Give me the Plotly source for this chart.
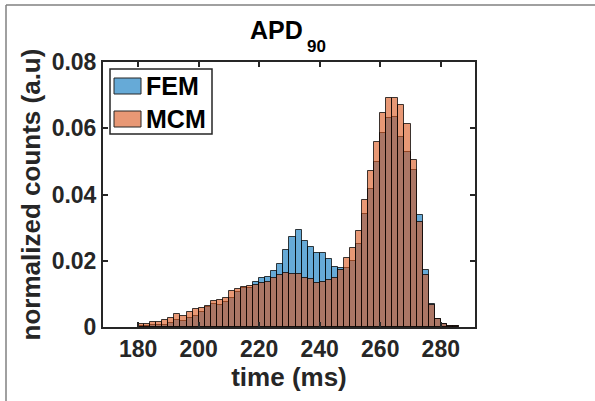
import plotly.graph_objects as go

# bin left edges (ms), 2 ms wide
bin_left = list(range(180, 286, 2))
fem = [0.0004, 0.0004, 0.0006, 0.0007, 0.0007, 0.0011, 0.0020, 0.0018, 0.0028, 0.0032,
       0.0046, 0.0060, 0.0069, 0.0065, 0.0075, 0.0088, 0.0106, 0.0119, 0.0119, 0.0136,
       0.0148, 0.0150, 0.0170, 0.0191, 0.0233, 0.0272, 0.0292, 0.0259, 0.0243, 0.0223,
       0.0223, 0.0206, 0.0182, 0.0177, 0.0177, 0.0198, 0.0252, 0.0341, 0.0416, 0.0498,
       0.0587, 0.0630, 0.0633, 0.0574, 0.0527, 0.0473, 0.0338, 0.0171, 0.0068, 0.0025,
       0.0010, 0.0004, 0.0003]
mcm = [0.0010, 0.0010, 0.0016, 0.0016, 0.0022, 0.0027, 0.0038, 0.0034, 0.0044, 0.0053,
       0.0056, 0.0063, 0.0078, 0.0083, 0.0087, 0.0110, 0.0114, 0.0121, 0.0125, 0.0126,
       0.0134, 0.0137, 0.0147, 0.0156, 0.0164, 0.0159, 0.0161, 0.0148, 0.0145, 0.0132,
       0.0137, 0.0141, 0.0149, 0.0171, 0.0207, 0.0240, 0.0289, 0.0382, 0.0471, 0.0559,
       0.0647, 0.0691, 0.0691, 0.0670, 0.0612, 0.0505, 0.0316, 0.0157, 0.0066, 0.0025,
       0.0010, 0.0004, 0.0004]
bin_width = 2
series_names = ["FEM", "MCM"]
x_ticks = [180, 200, 220, 240, 260, 280]
y_ticks = [0, 0.02, 0.04, 0.06, 0.08]
y_tick_text = ["0", "0.02", "0.04", "0.06", "0.08"]
title_main, title_sub = "APD", "90"

centers = [b + bin_width / 2 for b in bin_left]
colors = ["rgba(0,114,189,0.6)", "rgba(217,83,25,0.6)"]
ink = "#262626"
FONT = "Liberation Sans, Arial, sans-serif"

fig = go.Figure()
for name, vals, col in zip(series_names, [fem, mcm], colors):
    fig.add_trace(go.Bar(x=centers, y=vals, width=bin_width, name=name,
                         marker=dict(color=col, line=dict(color="rgba(0,0,0,0.75)", width=1)),
                         showlegend=False))

L, R, T, B = 103, 120, 62, 74
W, H = 595, 401
pw, ph = W - L - R, H - T - B
def px(x):
    return (x - L) / pw
def py(y):
    return (H - B - y) / ph

shapes = []
# figure frame (top and left edges)
shapes.append(dict(type="line", xref="paper", yref="paper", x0=px(6), x1=px(6), y0=py(401), y1=py(5),
                   line=dict(color="#808080", width=1.5)))
shapes.append(dict(type="line", xref="paper", yref="paper", x0=px(6), x1=px(595), y0=py(5), y1=py(5),
                   line=dict(color="#808080", width=1.5)))
# legend box
shapes.append(dict(type="rect", xref="paper", yref="paper", x0=px(110), x1=px(212), y0=py(134), y1=py(69),
                   fillcolor="white", line=dict(color=ink, width=1.5), layer="above"))
annotations = []
for i, (name, col) in enumerate(zip(series_names, colors)):
    yc = 86 + 33 * i
    shapes.append(dict(type="rect", xref="paper", yref="paper", x0=px(114), x1=px(141),
                       y0=py(yc + 8), y1=py(yc - 8), fillcolor=col,
                       line=dict(color=ink, width=1), layer="above"))
    annotations.append(dict(text=name, xref="paper", yref="paper", x=px(144), y=py(yc),
                            xanchor="left", yanchor="middle", showarrow=False,
                            font=dict(size=25, color="black", family=FONT, weight="bold")))
annotations.append(dict(text=title_main, xref="paper", yref="paper", x=px(305), y=py(30),
                        xanchor="right", yanchor="middle", showarrow=False,
                        font=dict(size=25, color="black", family=FONT, weight="bold")))
annotations.append(dict(text=title_sub, xref="paper", yref="paper", x=px(305), y=py(46),
                        xanchor="left", yanchor="middle", showarrow=False,
                        font=dict(size=17, color="black", family=FONT, weight="bold")))

fig.update_layout(
    width=W, height=H, margin=dict(l=L, r=R, t=T, b=B, autoexpand=False),
    paper_bgcolor="white", plot_bgcolor="white",
    barmode="overlay", bargap=0,
    font=dict(family=FONT, color=ink, size=23, weight="bold"),
    shapes=shapes, annotations=annotations,
    xaxis=dict(range=[168.4, 291.3], tickvals=x_ticks, ticks="inside", ticklen=5, tickwidth=1.5,
               tickcolor=ink, showline=True, linecolor=ink, linewidth=2, mirror="ticks",
               showgrid=False, zeroline=False, tickfont=dict(size=23, weight="bold"),
               title=dict(text="time (ms)", font=dict(size=26, weight="bold"), standoff=6)),
    yaxis=dict(range=[0, 0.08], tickvals=y_ticks, ticktext=y_tick_text, ticks="inside", ticklen=5,
               tickwidth=1.5, tickcolor=ink, showline=True, linecolor=ink, linewidth=2, mirror="ticks",
               showgrid=False, zeroline=False, tickfont=dict(size=23, weight="bold"),
               title=dict(text="normalized counts (a.u)", font=dict(size=26, weight="bold"), standoff=4)),
)
fig.write_html("out.html", config={"displayModeBar": False},
               post_script="document.body.style.margin='0px';")
